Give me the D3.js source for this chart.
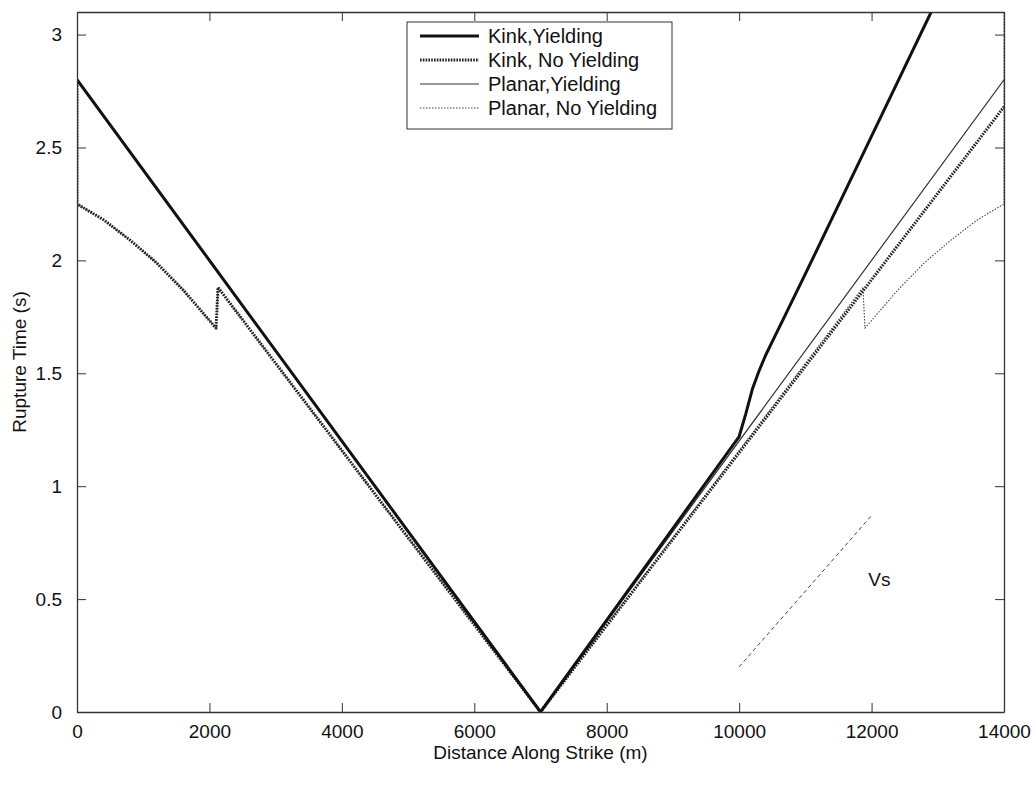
<!DOCTYPE html>
<html>
<head>
<meta charset="utf-8">
<script src="https://cdn.jsdelivr.net/npm/d3@7"></script>
<style>
  html, body { margin: 0; padding: 0; background: #fff; }
  svg { display: block; }
  text { font-family: "Liberation Sans", Arial, Helvetica, sans-serif; fill: #111; }
</style>
</head>
<body>
<svg id="chart" width="1036" height="797"></svg>
<script>
// Rupture time along strike for kinked and planar faults, with and without yielding
const kinkYieldingX   = [0, 7000, 10000, 10100, 10200, 10300, 10400, 10500, 10700, 11000, 12000, 12900, 13600];
const kinkYieldingY   = [2.8, 0, 1.22, 1.32, 1.43, 1.51, 1.58, 1.64, 1.76, 1.94, 2.55, 3.1, 3.53];

const kinkNoYieldX    = [0, 0, 400, 800, 1200, 1600, 2100, 2130, 7000, 14000];
const kinkNoYieldY    = [2.8, 2.25, 2.18, 2.09, 1.99, 1.87, 1.70, 1.88, 0, 2.68];

const planarYieldingX = [0, 7000, 14000];
const planarYieldingY = [2.8, 0, 2.8];

const planarNoYieldX  = [0, 400, 800, 1200, 1600, 2100, 2130, 7000, 11870, 11900, 12400, 12800, 13200, 13600, 14000, 14000];
const planarNoYieldY  = [2.25, 2.18, 2.09, 1.99, 1.87, 1.70, 1.88, 0, 1.88, 1.70, 1.87, 1.99, 2.09, 2.18, 2.25, 3.1];

// Reference shear-wave slope
const vsX = [10000, 12000];
const vsY = [0.2, 0.87];

const seriesNames = ["Kink,Yielding", "Kink, No Yielding", "Planar,Yielding", "Planar, No Yielding"];
const xTicks = [0, 2000, 4000, 6000, 8000, 10000, 12000, 14000];
const yTicks = [0, 0.5, 1, 1.5, 2, 2.5, 3];
const xDomain = [0, 14000];
const yDomain = [0, 3.1];

const svg = d3.select("#chart");
const margin = { left: 77, top: 12, right: 32, bottom: 85 };
const W = 1036, H = 797;
const innerW = W - margin.left - margin.right;
const innerH = H - margin.top - margin.bottom;

const x = d3.scaleLinear().domain(xDomain).range([margin.left, margin.left + innerW]);
const y = d3.scaleLinear().domain(yDomain).range([margin.top + innerH, margin.top]);

const pts = (xs, ys) => xs.map((v, i) => [v, ys[i]]);
const line = d3.line().x(d => x(d[0])).y(d => y(d[1]));

svg.append("defs").append("clipPath").attr("id", "plotClip")
  .append("rect")
  .attr("x", margin.left).attr("y", margin.top)
  .attr("width", innerW).attr("height", innerH);

const styles = [
  { width: 3,   dash: null,      color: "#111" },
  { width: 3,   dash: "1.6,1.2", color: "#222" },
  { width: 1.2, dash: null,      color: "#333" },
  { width: 1.1, dash: "1.5,1.5", color: "#444" }
];

const series = [
  pts(kinkYieldingX, kinkYieldingY),
  pts(kinkNoYieldX, kinkNoYieldY),
  pts(planarYieldingX, planarYieldingY),
  pts(planarNoYieldX, planarNoYieldY)
];

const plot = svg.append("g").attr("clip-path", "url(#plotClip)");
// thin lines first so the thick ones sit on top
[3, 2, 1, 0].forEach(i => {
  plot.append("path")
    .datum(series[i])
    .attr("fill", "none")
    .attr("stroke", styles[i].color)
    .attr("stroke-width", styles[i].width)
    .attr("stroke-dasharray", styles[i].dash)
    .attr("stroke-linejoin", "round")
    .attr("d", line);
});

plot.append("path")
  .datum(pts(vsX, vsY))
  .attr("fill", "none")
  .attr("stroke", "#444")
  .attr("stroke-width", 1)
  .attr("stroke-dasharray", "4,3")
  .attr("d", line);

svg.append("text")
  .attr("x", x(11950)).attr("y", y(0.56))
  .attr("font-size", 19)
  .text("Vs");

// Axes: closed box with inward ticks on all four sides
const tickLen = 9;
const axisColor = "#333";
const bottomAxis = d3.axisBottom(x).tickValues(xTicks).tickSizeInner(-tickLen).tickSizeOuter(0).tickPadding(13).tickFormat(d3.format("d"));
const topAxis = d3.axisTop(x).tickValues(xTicks).tickSizeInner(-tickLen).tickSizeOuter(0).tickFormat("");
const leftAxis = d3.axisLeft(y).tickValues(yTicks).tickSizeInner(-tickLen).tickSizeOuter(0).tickPadding(15).tickFormat(d => d3.format("")(d));
const rightAxis = d3.axisRight(y).tickValues(yTicks).tickSizeInner(-tickLen).tickSizeOuter(0).tickFormat("");

function styleAxis(g) {
  g.selectAll("path.domain").attr("stroke", axisColor).attr("stroke-width", 1.3);
  g.selectAll(".tick line").attr("stroke", axisColor).attr("stroke-width", 1);
  g.selectAll(".tick text").attr("font-size", 19).attr("fill", "#111")
    .attr("font-family", "'Liberation Sans', Arial, Helvetica, sans-serif");
}

svg.append("g").attr("transform", `translate(0,${margin.top + innerH})`).call(bottomAxis).call(styleAxis);
svg.append("g").attr("transform", `translate(0,${margin.top})`).call(topAxis).call(styleAxis);
svg.append("g").attr("transform", `translate(${margin.left},0)`).call(leftAxis).call(styleAxis);
svg.append("g").attr("transform", `translate(${margin.left + innerW},0)`).call(rightAxis).call(styleAxis);

// Axis titles
svg.append("text")
  .attr("x", x(7000)).attr("y", margin.top + innerH + 47)
  .attr("text-anchor", "middle").attr("font-size", 19)
  .text("Distance Along Strike (m)");

svg.append("text")
  .attr("transform", `translate(26,${y(1.55)}) rotate(-90)`)
  .attr("text-anchor", "middle").attr("font-size", 19)
  .text("Rupture Time (s)");

// Legend
const lg = svg.append("g").attr("transform", "translate(407,22)");
lg.append("rect")
  .attr("width", 265).attr("height", 107)
  .attr("fill", "#fff").attr("stroke", axisColor).attr("stroke-width", 1);
seriesNames.forEach((name, i) => {
  const cy = 14 + i * 24;
  lg.append("line")
    .attr("x1", 13).attr("x2", 72).attr("y1", cy).attr("y2", cy)
    .attr("stroke", styles[i].color)
    .attr("stroke-width", styles[i].width)
    .attr("stroke-dasharray", styles[i].dash);
  lg.append("text")
    .attr("x", 81).attr("y", cy + 7)
    .attr("font-size", 20)
    .text(name);
});
</script>
</body>
</html>
